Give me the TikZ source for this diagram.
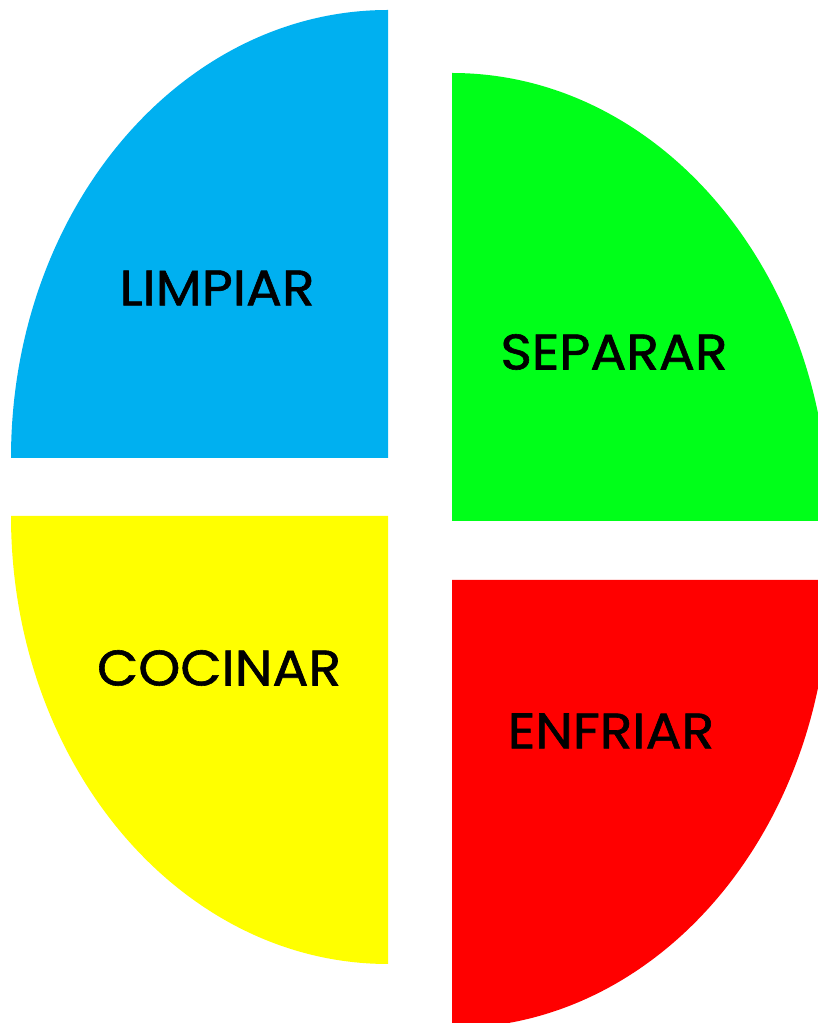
\documentclass[tikz,border=0pt]{standalone}
\usepackage{fontspec}
\setmainfont{Poppins}[FakeStretch=1.07, FakeBold=1.2]
\definecolor{cblue}{HTML}{00B0F0}
\definecolor{cgreen}{HTML}{00FF19}
\definecolor{cyellow}{HTML}{FFFF00}
\definecolor{cred}{HTML}{FF0000}
\begin{document}
\begin{tikzpicture}[x=1pt,y=1pt,
  lbl/.style={font=\fontsize{50}{60}\selectfont, text=black, inner sep=0pt, anchor=center}]
\useasboundingbox (0,0) rectangle (818,1023);
\clip (0,0) rectangle (818,1023);
% blue top-left
\fill[cblue] (388,565) -- (11,565) arc[start angle=180, end angle=90, x radius=377, y radius=448] -- cycle;
% yellow bottom-left
\fill[cyellow] (388,507) -- (11,507) arc[start angle=180, end angle=270, x radius=377, y radius=448] -- cycle;
% green top-right
\fill[cgreen] (452,502) -- (452,950) arc[start angle=90, end angle=0, x radius=377, y radius=448] -- cycle;
% red bottom-right
\fill[cred] (452,443) -- (452,-5) arc[start angle=270, end angle=360, x radius=377, y radius=448] -- cycle;
\node[lbl] (limpiar) at (217,735) {LIMPIAR};
\node[lbl] (separar) at (614,671) {SEPARAR};
\node[lbl] (cocinar) at (219,355) {COCINAR};
\node[lbl] (enfriar) at (611,292) {ENFRIAR};
\end{tikzpicture}
\end{document}
